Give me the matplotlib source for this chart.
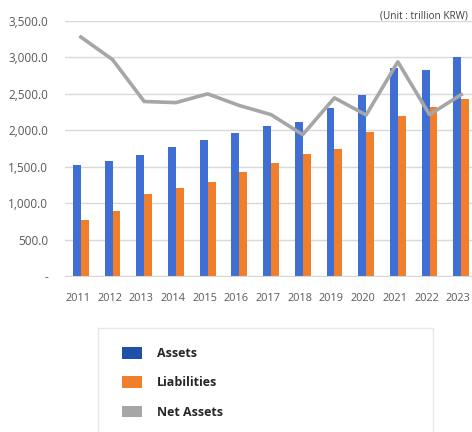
import numpy as np
import matplotlib
matplotlib.use("Agg")
import matplotlib.pyplot as plt
import matplotlib.transforms as mtransforms
from matplotlib.patches import Patch, Rectangle
from matplotlib.ticker import FuncFormatter

# data (trillion KRW)
years = ["2011", "2012", "2013", "2014", "2015", "2016", "2017",
         "2018", "2019", "2020", "2021", "2022", "2023"]
assets = [1530, 1580, 1665, 1770, 1860, 1965, 2060, 2120, 2300, 2490, 2860, 2830, 3010]
liabilities = [770, 895, 1125, 1205, 1290, 1430, 1550, 1680, 1745, 1980, 2195, 2320, 2435]
net_assets = [3280, 2970, 2395, 2380, 2500, 2340, 2215, 1940, 2445, 2210, 2940, 2215, 2490]
yticks = [0, 500, 1000, 1500, 2000, 2500, 3000, 3500]

BLUE = '#3F6FD3'
ORANGE = '#F07E2A'
GRAY = '#A6A6A6'
TEXT = '#595959'

plt.rcParams['font.family'] = ['Open Sans', 'DejaVu Sans']

fig = plt.figure(figsize=(4.72, 4.32), dpi=100)
ax = fig.add_axes([65 / 472, 1 - 276 / 432, 1 - 65 / 472, (276 - 21) / 432])

x = np.arange(len(years))
w = 0.25
ax.bar(x - w / 2, assets, width=w, color=BLUE, zorder=2)
ax.bar(x + w / 2, liabilities, width=w, color=ORANGE, zorder=2)
ax.plot(x, net_assets, color=GRAY, lw=2.6, zorder=3)

ax.set_xlim(-0.5, 12.34)
ax.set_ylim(0, 3500)
ax.set_yticks(yticks)
ax.yaxis.set_major_formatter(FuncFormatter(lambda v, p: '-' if v == 0 else f'{v:,.1f}'))
ax.set_xticks(x)
ax.set_xticklabels(years)
ax.tick_params(axis='both', length=0, colors=TEXT)
ax.tick_params(axis='x', pad=12, labelsize=7.8)
ax.tick_params(axis='y', pad=12, labelsize=8.5)
ax.grid(axis='y', color='#D9D9D9', lw=1, zorder=0)
for s in ['top', 'right', 'left']:
    ax.spines[s].set_visible(False)
ax.spines['bottom'].set_color('#D9D9D9')

# year labels sit a little left of the bar pair
shift = mtransforms.ScaledTranslation(-3 / 100, 0, fig.dpi_scale_trans)
for lbl in ax.get_xticklabels():
    lbl.set_transform(lbl.get_transform() + shift)

fig.text(468 / 472, 1 - 16 / 432, '(Unit : trillion KRW)', ha='right', va='center',
         fontsize=7.2, color='#404040')

# legend box
fig.add_artist(Rectangle((98 / 472, -0.05), (433 - 98) / 472, 0.05 + 1 - 328 / 432,
                         transform=fig.transFigure, facecolor='white',
                         edgecolor='#E8E8E8', lw=1, zorder=1))
handles = [Patch(facecolor='#1E50A8', edgecolor='none', label='Assets'),
           Patch(facecolor=ORANGE, edgecolor='none', label='Liabilities'),
           Patch(facecolor=GRAY, edgecolor='none', label='Net Assets')]
fig.legend(handles=handles, loc='upper left', bbox_to_anchor=(122 / 472, 1 - 347 / 432),
           frameon=False, borderpad=0, borderaxespad=0, handlelength=1.6,
           handleheight=1.05, handletextpad=1.2, labelspacing=1.3,
           prop={'size': 9, 'weight': 'bold'}, labelcolor='#262626')

fig.savefig('out.png', dpi=100)
